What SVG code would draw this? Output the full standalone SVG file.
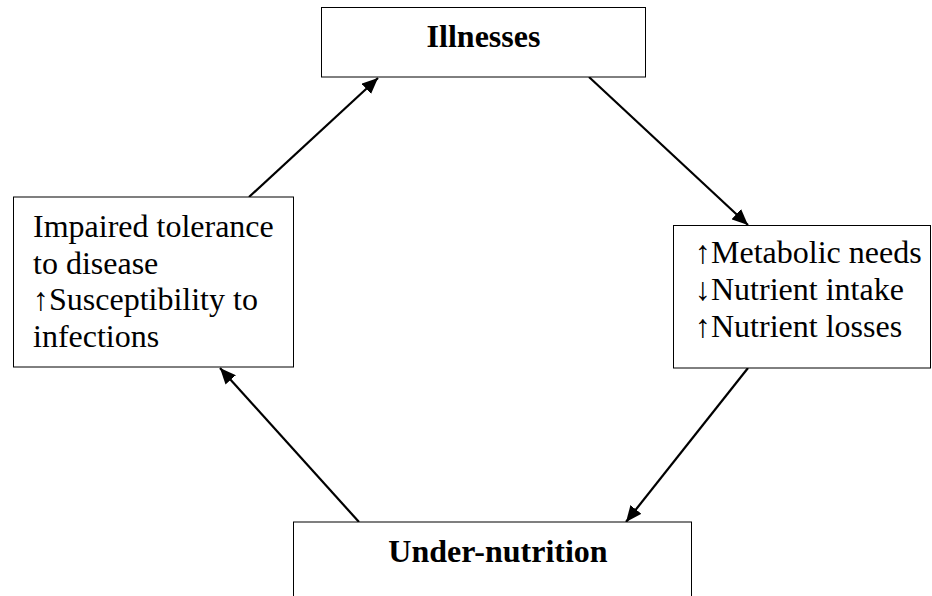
<svg xmlns="http://www.w3.org/2000/svg" width="932" height="596" viewBox="0 0 932 596">
  <style>
    .box { fill: #fff; stroke: #000; stroke-width: 1; }
    .t { font-family: "Liberation Serif", "Times New Roman", "DejaVu Serif", serif; font-size: 32px; fill: #000; }
    .b { font-weight: bold; text-anchor: middle; }
    .edge { stroke: #000; stroke-width: 2.2; fill: none; marker-end: url(#arrow); }
  </style>
  <defs>
    <marker id="arrow" markerUnits="userSpaceOnUse" markerWidth="18" markerHeight="14" refX="16" refY="7" orient="auto">
      <path d="M0,0 L16,7 L0,14 z" fill="#000"/>
    </marker>
  </defs>
  <rect width="932" height="596" fill="#fff"/>

  <g id="connectors">
    <line class="edge" x1="249" y1="197" x2="378" y2="78"/>
    <line class="edge" x1="589" y1="77" x2="748" y2="225"/>
    <line class="edge" x1="748" y1="368" x2="626" y2="522"/>
    <line class="edge" x1="359" y1="522" x2="220" y2="368"/>
  </g>

  <g id="illnesses">
    <rect class="box" x="321.5" y="7.5" width="324" height="69.5"/>
    <text class="t b" x="483.5" y="47">Illnesses</text>
  </g>

  <g id="effects">
    <rect class="box" x="673.5" y="225.5" width="257" height="142.5"/>
    <text class="t" x="695" y="263.3">↑Metabolic needs</text>
    <text class="t" x="695" y="300">↓Nutrient intake</text>
    <text class="t" x="695" y="336.7">↑Nutrient losses</text>
  </g>

  <g id="undernutrition">
    <rect class="box" x="293.5" y="522" width="398" height="80"/>
    <text class="t b" x="498" y="562">Under-nutrition</text>
  </g>

  <g id="consequences">
    <rect class="box" x="13.5" y="197" width="280" height="170"/>
    <text class="t" x="33" y="237">Impaired tolerance</text>
    <text class="t" x="33" y="273.7">to disease</text>
    <text class="t" x="33" y="310.3">↑Susceptibility to</text>
    <text class="t" x="33" y="347">infections</text>
  </g>
</svg>
